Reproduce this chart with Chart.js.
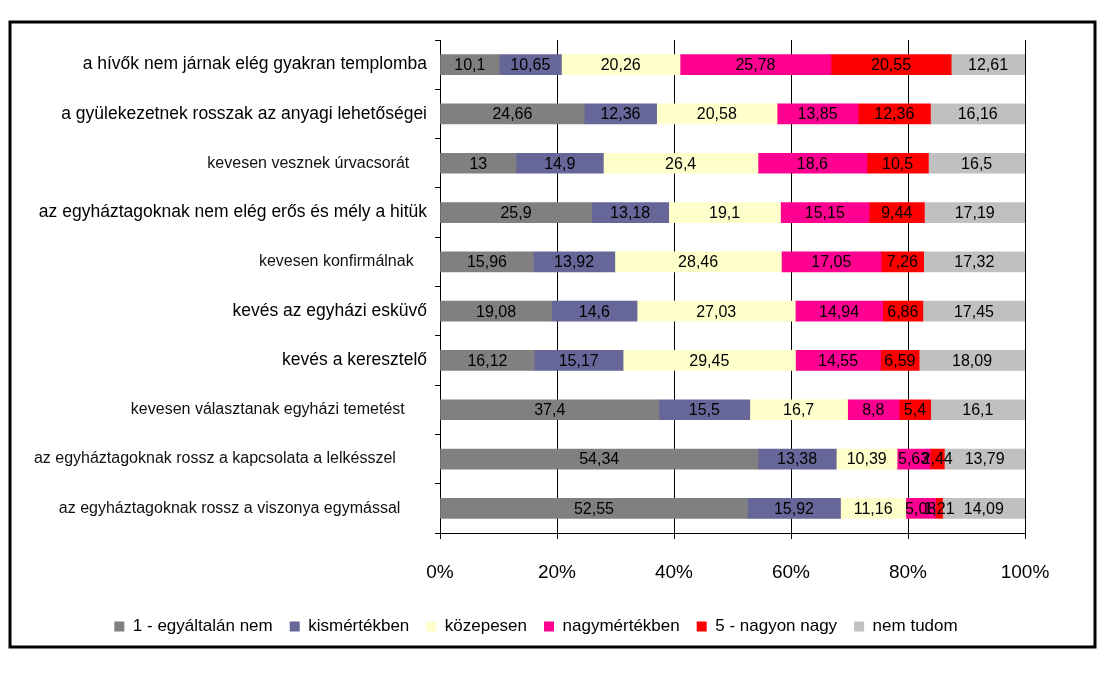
<!DOCTYPE html>
<html><head><meta charset="utf-8">
<script src="https://cdn.jsdelivr.net/npm/chart.js@4/dist/chart.umd.min.js"></script>
<style>html,body{margin:0;padding:0;background:#fff;}</style>
</head><body>
<canvas id="c" width="1106" height="673"></canvas>
<script>
const categories = [
  'a hívők nem járnak elég gyakran templomba',
  'a gyülekezetnek rosszak az anyagi lehetőségei',
  'kevesen vesznek úrvacsorát',
  'az egyháztagoknak nem elég erős és mély a hitük',
  'kevesen konfirmálnak',
  'kevés az egyházi esküvő',
  'kevés a keresztelő',
  'kevesen választanak egyházi temetést',
  'az egyháztagoknak rossz a kapcsolata a lelkésszel',
  'az egyháztagoknak rossz a viszonya egymással'
];
const seriesNames = ['1 - egyáltalán nem', 'kismértékben', 'közepesen', 'nagymértékben', '5 - nagyon nagy', 'nem tudom'];
const egyaltalanNem = [10.1, 24.66, 13, 25.9, 15.96, 19.08, 16.12, 37.4, 54.34, 52.55];
const kismertekben  = [10.65, 12.36, 14.9, 13.18, 13.92, 14.6, 15.17, 15.5, 13.38, 15.92];
const kozepesen     = [20.26, 20.58, 26.4, 19.1, 28.46, 27.03, 29.45, 16.7, 10.39, 11.16];
const nagymertekben = [25.78, 13.85, 18.6, 15.15, 17.05, 14.94, 14.55, 8.8, 5.63, 5.08];
const nagyonNagy    = [20.55, 12.36, 10.5, 9.44, 7.26, 6.86, 6.59, 5.4, 2.44, 1.21];
const nemTudom      = [12.61, 16.16, 16.5, 17.19, 17.32, 17.45, 18.09, 16.1, 13.79, 14.09];
const tickLabels = ['0%', '20%', '40%', '60%', '80%', '100%'];

const series = [egyaltalanNem, kismertekben, kozepesen, nagymertekben, nagyonNagy, nemTudom];
const colors = ['#808080', '#666699', '#FFFFCC', '#FF0090', '#FF0000', '#C0C0C0'];
const rowSums = categories.map((_, i) => series.reduce((s, arr) => s + arr[i], 0));

// styling per category label (larger ones and right-side offsets)
const largeLabel = [true, true, false, true, false, true, true, false, false, false];
const labelPad = [0, 0, 4, 0, 3, 0, 0, 5, 7, 6];
const FONT = '"Liberation Sans", Arial, sans-serif';

const dataLabelPlugin = {
  id: 'segLabels',
  afterLayout(chart) {
    // let the long category labels extend to the left edge without clipping
    chart.scales.y.left = 0;
  },
  afterDatasetsDraw(chart) {
    const ctx = chart.ctx;
    ctx.save();
    ctx.font = '16px ' + FONT;
    ctx.fillStyle = '#000';
    ctx.textAlign = 'center';
    ctx.textBaseline = 'middle';
    chart.data.datasets.forEach((ds, di) => {
      const meta = chart.getDatasetMeta(di);
      meta.data.forEach((bar, i) => {
        const raw = ds.rawValues[i];
        const cx = (bar.x + bar.base) / 2;
        ctx.fillText(String(raw).replace('.', ','), cx, bar.y + 1);
      });
    });
    ctx.restore();
  }
};
const framePlugin = {
  id: 'frame',
  beforeDraw(chart) {
    const ctx = chart.ctx;
    ctx.save();
    ctx.fillStyle = '#fff';
    ctx.fillRect(0, 0, chart.width, chart.height);
    ctx.restore();
  },
  afterDraw(chart) {
    const ctx = chart.ctx;
    ctx.save();
    ctx.strokeStyle = '#000';
    ctx.lineWidth = 3;
    ctx.strokeRect(10, 22, 1085, 625);
    ctx.restore();
  }
};

new Chart(document.getElementById('c'), {
  type: 'bar',
  data: {
    labels: categories,
    datasets: series.map((arr, k) => ({
      label: seriesNames[k],
      data: arr.map((v, i) => v / rowSums[i] * 100),
      rawValues: arr,
      backgroundColor: colors[k],
      borderWidth: 0,
      barThickness: 20
    }))
  },
  options: {
    indexAxis: 'y',
    responsive: false,
    animation: false,
    devicePixelRatio: 1,
    layout: { padding: { left: 47, right: 81, top: 40, bottom: 28 } },
    plugins: {
      tooltip: { enabled: false },
      legend: {
        position: 'bottom',
        labels: {
          boxWidth: 10, boxHeight: 10, padding: 17,
          color: '#000',
          font: { family: FONT, size: 17 }
        }
      }
    },
    scales: {
      x: {
        stacked: true, min: 0, max: 100,
        afterFit(s) { s.height = 68; },
        ticks: {
          stepSize: 20,
          callback: (v) => tickLabels[Math.round(v / 20)],
          color: '#000', padding: 22,
          font: { family: FONT, size: 19 }
        },
        grid: { color: '#000', lineWidth: 1, tickLength: 6, drawOnChartArea: true },
        border: { color: '#000', width: 1 }
      },
      y: {
        stacked: true,
        afterFit(s) { s.width = 393; },
        ticks: {
          padding: 8,
          callback: (v, i) => categories[i] + ' '.repeat(labelPad[i]),
          color: (c) => largeLabel[c.index] ? '#000' : '#111',
          font: (c) => ({ family: FONT, size: largeLabel[c.index] ? 17.5 : 16 })
        },
        grid: { color: '#000', lineWidth: 1, tickLength: 5, drawOnChartArea: false, offset: true },
        border: { color: '#000', width: 1 }
      }
    }
  },
  plugins: [framePlugin, dataLabelPlugin]
});
</script>
</body></html>
